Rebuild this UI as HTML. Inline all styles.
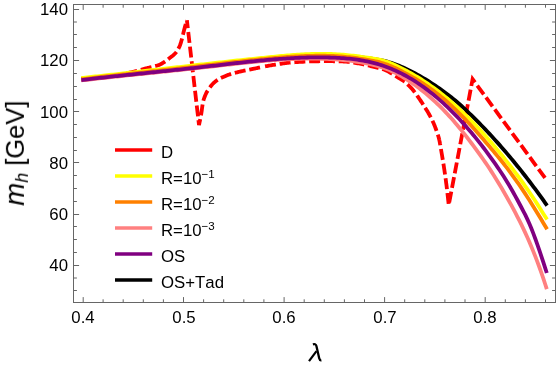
<!DOCTYPE html><html><head><meta charset="utf-8"><style>
html,body{margin:0;padding:0;background:#fff;}
body{width:556px;height:367px;position:relative;overflow:hidden;font-family:"Liberation Sans",sans-serif;color:#000;}
.t{position:absolute;font-size:16.8px;line-height:1;white-space:nowrap;font-kerning:none;will-change:transform;}
.yl{text-align:right;width:60px;}
.xl{text-align:center;width:60px;}
sup{font-size:0.69em;vertical-align:baseline;position:relative;top:-0.545em;line-height:0}
</style></head><body>
<svg width="556" height="367" viewBox="0 0 556 367" style="position:absolute;left:0;top:0">
<clipPath id="c"><rect x="73.5" y="4.5" width="482.0" height="298.0"/></clipPath>
<g fill="none" stroke-linejoin="miter" stroke-miterlimit="4" clip-path="url(#c)">
<path d="M81.30 79.20 L82.73 79.04 L84.58 78.84 L86.78 78.61 L89.25 78.34 L91.92 78.06 L94.71 77.76 L97.56 77.45 L100.39 77.13 L103.12 76.83 L105.68 76.53 L108.00 76.25 L110.00 76.00 L111.75 75.77 L113.35 75.54 L114.83 75.32 L116.20 75.10 L117.47 74.89 L118.67 74.68 L119.80 74.48 L120.88 74.28 L121.92 74.08 L122.95 73.89 L123.97 73.69 L125.00 73.50 L126.01 73.31 L126.96 73.13 L127.85 72.96 L128.70 72.80 L129.52 72.63 L130.31 72.47 L131.09 72.30 L131.85 72.14 L132.62 71.96 L133.39 71.79 L134.18 71.60 L135.00 71.40 L135.84 71.19 L136.69 70.96 L137.55 70.73 L138.41 70.49 L139.27 70.24 L140.12 69.99 L140.98 69.74 L141.81 69.49 L142.64 69.25 L143.45 69.02 L144.24 68.80 L145.00 68.60 L145.74 68.41 L146.47 68.23 L147.18 68.06 L147.87 67.90 L148.55 67.75 L149.22 67.60 L149.87 67.45 L150.52 67.31 L151.15 67.16 L151.78 67.01 L152.39 66.86 L153.00 66.70 L153.60 66.54 L154.18 66.39 L154.75 66.23 L155.31 66.08 L155.87 65.93 L156.41 65.78 L156.94 65.62 L157.46 65.45 L157.98 65.28 L158.49 65.10 L159.00 64.91 L159.50 64.70 L160.00 64.48 L160.48 64.25 L160.96 64.02 L161.43 63.77 L161.90 63.52 L162.36 63.26 L162.81 62.99 L163.26 62.72 L163.70 62.44 L164.14 62.16 L164.57 61.88 L165.00 61.60 L165.42 61.32 L165.83 61.03 L166.23 60.74 L166.62 60.45 L167.00 60.16 L167.39 59.86 L167.77 59.55 L168.16 59.24 L168.55 58.92 L168.96 58.59 L169.37 58.25 L169.80 57.90 L170.25 57.54 L170.72 57.18 L171.21 56.81 L171.70 56.43 L172.21 56.05 L172.71 55.66 L173.21 55.25 L173.71 54.84 L174.19 54.42 L174.65 53.99 L175.09 53.55 L175.50 53.10 L175.89 52.63 L176.26 52.15 L176.62 51.66 L176.96 51.16 L177.29 50.64 L177.61 50.12 L177.92 49.59 L178.21 49.06 L178.50 48.52 L178.78 47.98 L179.04 47.44 L179.30 46.90 L179.55 46.36 L179.78 45.82 L179.99 45.27 L180.20 44.73 L180.39 44.17 L180.57 43.62 L180.75 43.06 L180.93 42.50 L181.10 41.93 L181.26 41.36 L181.43 40.78 L181.60 40.20 L181.77 39.61 L181.93 39.01 L182.09 38.40 L182.24 37.79 L182.39 37.17 L182.54 36.54 L182.68 35.92 L182.83 35.30 L182.97 34.69 L183.11 34.08 L183.26 33.49 L183.40 32.90 L183.54 32.32 L183.69 31.75 L183.83 31.19 L183.97 30.63 L184.11 30.08 L184.25 29.53 L184.39 28.98 L184.53 28.44 L184.67 27.90 L184.81 27.36 L184.96 26.83 L185.10 26.30 L185.25 25.75 L185.42 25.18 L185.59 24.60 L185.76 24.00 L185.93 23.41 L186.11 22.84 L186.27 22.28 L186.43 21.76 L186.57 21.28 L186.70 20.86 L186.81 20.49 L186.90 20.20" stroke="#ff0000" stroke-width="3.8" stroke-dasharray="11.0 3.8" stroke-dashoffset="-1.20"/>
<path d="M186.90 20.20 L199.00 125.00 L199.11 124.47 L199.25 123.82 L199.41 123.05 L199.59 122.19 L199.79 121.26 L199.99 120.26 L200.21 119.23 L200.42 118.17 L200.63 117.12 L200.84 116.07 L201.03 115.06 L201.20 114.10 L201.36 113.15 L201.51 112.16 L201.66 111.15 L201.80 110.13 L201.94 109.10 L202.08 108.08 L202.22 107.07 L202.35 106.10 L202.49 105.16 L202.62 104.28 L202.76 103.45 L202.90 102.70 L203.04 102.03 L203.17 101.42 L203.30 100.88 L203.43 100.38 L203.56 99.93 L203.69 99.50 L203.82 99.09 L203.96 98.70 L204.10 98.30 L204.26 97.89 L204.42 97.46 L204.60 97.00 L204.78 96.52 L204.97 96.05 L205.16 95.57 L205.35 95.10 L205.55 94.63 L205.76 94.15 L205.98 93.67 L206.21 93.19 L206.46 92.70 L206.72 92.21 L207.00 91.71 L207.30 91.20 L207.62 90.68 L207.96 90.14 L208.31 89.59 L208.68 89.03 L209.07 88.46 L209.46 87.89 L209.87 87.33 L210.29 86.77 L210.71 86.23 L211.14 85.70 L211.57 85.19 L212.00 84.70 L212.43 84.23 L212.87 83.78 L213.32 83.33 L213.77 82.90 L214.22 82.48 L214.69 82.07 L215.16 81.67 L215.64 81.28 L216.14 80.90 L216.65 80.52 L217.17 80.16 L217.70 79.80 L218.25 79.45 L218.83 79.11 L219.43 78.78 L220.04 78.46 L220.66 78.15 L221.29 77.84 L221.93 77.55 L222.56 77.26 L223.19 76.99 L223.81 76.72 L224.41 76.45 L225.00 76.20 L225.57 75.96 L226.12 75.73 L226.66 75.51 L227.19 75.30 L227.71 75.10 L228.23 74.91 L228.76 74.73 L229.29 74.54 L229.84 74.36 L230.40 74.17 L230.99 73.99 L231.60 73.80 L232.24 73.61 L232.90 73.42 L233.58 73.22 L234.28 73.03 L234.99 72.84 L235.71 72.66 L236.44 72.47 L237.16 72.29 L237.89 72.11 L238.60 71.94 L239.31 71.77 L240.00 71.60 L240.68 71.44 L241.36 71.29 L242.04 71.14 L242.72 70.99 L243.39 70.85 L244.06 70.71 L244.73 70.57 L245.39 70.43 L246.05 70.30 L246.71 70.17 L247.36 70.03 L248.00 69.90 L248.63 69.77 L249.23 69.65 L249.82 69.53 L250.39 69.41 L250.96 69.30 L251.54 69.18 L252.12 69.06 L252.72 68.94 L253.34 68.82 L253.99 68.69 L254.67 68.55 L255.40 68.40 L256.17 68.24 L256.97 68.07 L257.79 67.89 L258.64 67.71 L259.52 67.52 L260.41 67.33 L261.32 67.14 L262.24 66.94 L263.00 66.79" stroke="#ff0000" stroke-width="3.8" stroke-dasharray="11.0 3.8" stroke-dashoffset="3.00"/>
<path d="M263.00 66.79 L263.18 66.75 L264.12 66.56 L265.06 66.38 L266.00 66.20 L266.95 66.03 L267.92 65.85 L268.90 65.68 L269.90 65.50 L270.90 65.33 L271.91 65.16 L272.93 64.99 L273.95 64.83 L274.97 64.67 L275.98 64.51 L277.00 64.35 L278.00 64.20 L279.00 64.05 L280.00 63.90 L281.00 63.75 L282.00 63.61 L283.00 63.46 L284.00 63.33 L285.00 63.19 L286.00 63.06 L287.00 62.93 L288.00 62.82 L289.00 62.70 L290.00 62.60 L291.00 62.50 L291.99 62.42 L292.98 62.34 L293.96 62.26 L294.95 62.19 L295.94 62.13 L296.93 62.07 L297.93 62.01 L298.93 61.96 L299.94 61.91 L300.96 61.85 L302.00 61.80 L303.04 61.75 L304.09 61.69 L305.13 61.64 L306.19 61.60 L307.24 61.55 L308.31 61.51 L309.39 61.46 L310.48 61.43 L311.59 61.39 L312.71 61.36 L313.84 61.33 L315.00 61.30 L316.18 61.28 L317.38 61.25 L318.61 61.24 L319.85 61.22 L321.11 61.20 L322.38 61.19 L323.65 61.19 L324.93 61.18 L326.20 61.18 L327.48 61.18 L328.74 61.19 L330.00 61.20 L331.25 61.21 L332.50 61.22 L333.75 61.23 L335.00 61.23 L336.25 61.25 L337.50 61.26 L338.75 61.29 L340.00 61.32 L341.25 61.37 L342.50 61.43 L343.75 61.51 L345.00 61.60 L346.25 61.71 L347.51 61.84 L348.77 61.98 L350.04 62.13 L351.30 62.30 L352.56 62.48 L353.82 62.66 L355.07 62.86 L356.32 63.06 L357.56 63.27 L358.79 63.48 L360.00 63.70 L361.21 63.93 L362.41 64.17 L363.61 64.41 L364.81 64.67 L366.00 64.94 L367.18 65.21 L368.34 65.48 L369.50 65.76 L370.65 66.05 L371.78 66.33 L372.90 66.62 L374.00 66.90 L375.07 67.17 L376.09 67.40 L377.07 67.62 L378.04 67.83 L378.99 68.05 L379.94 68.28 L380.90 68.53 L381.87 68.81 L382.88 69.14 L383.93 69.53 L385.04 69.97 L386.20 70.50 L387.47 71.14 L388.87 71.89 L390.37 72.74 L391.92 73.66 L393.51 74.62 L395.09 75.61 L396.65 76.58 L398.13 77.53 L399.52 78.42 L400.79 79.23 L401.89 79.93 L402.80 80.50 L403.50 80.93 L404.01 81.23 L404.36 81.43 L404.58 81.56 L404.71 81.62 L404.77 81.66 L404.80 81.68 L404.82 81.71 L404.87 81.78 L404.98 81.90 L405.18 82.10 L405.50 82.40 L405.92 82.79 L406.40 83.23 L406.92 83.72 L407.47 84.24 L408.06 84.81 L408.66 85.39 L409.28 86.00 L409.89 86.62 L410.50 87.25 L411.09 87.88 L411.66 88.49 L412.20 89.10 L412.71 89.70 L413.21 90.30 L413.70 90.91 L414.17 91.53 L414.65 92.15 L415.11 92.78 L415.58 93.42 L416.04 94.06 L416.50 94.71 L416.96 95.37 L417.43 96.03 L417.90 96.70 L418.37 97.38 L418.85 98.07 L419.32 98.76 L419.80 99.46 L420.27 100.17 L420.74 100.88 L421.22 101.60 L421.69 102.33 L422.17 103.06 L422.64 103.80 L423.12 104.55 L423.60 105.30 L424.08 106.06 L424.57 106.83 L425.07 107.61 L425.57 108.40 L426.07 109.19 L426.56 109.99 L427.06 110.79 L427.54 111.59 L428.02 112.40 L428.50 113.20 L428.95 114.00 L429.40 114.80 L429.83 115.59 L430.26 116.38 L430.67 117.17 L431.08 117.96 L431.48 118.75 L431.87 119.54 L432.26 120.33 L432.64 121.13 L433.01 121.93 L433.38 122.75 L433.74 123.57 L434.10 124.40 L434.46 125.26 L434.81 126.16 L435.17 127.09 L435.52 128.03 L435.87 128.98 L436.21 129.93 L436.53 130.86 L436.84 131.77 L437.14 132.63 L437.42 133.45 L437.67 134.21 L437.90 134.90 L438.10 135.51 L438.28 136.06 L438.43 136.55 L438.56 136.99 L438.67 137.40 L438.77 137.77 L438.87 138.13 L438.95 138.49 L439.03 138.84 L439.12 139.20 L439.20 139.59 L439.30 140.00 L439.39 140.39 L439.46 140.71 L439.52 140.98 L439.58 141.22 L439.63 141.47 L439.68 141.74 L439.74 142.07 L439.81 142.47 L439.90 142.96 L440.00 143.59 L440.14 144.36 L440.30 145.30 L440.50 146.43 L440.72 147.74 L440.97 149.19 L441.25 150.77 L441.54 152.45 L441.84 154.20 L442.14 156.00 L442.45 157.83 L442.76 159.66 L443.05 161.46 L443.34 163.22 L443.60 164.90 L443.85 166.54 L444.10 168.17 L444.35 169.80 L444.59 171.43 L444.82 173.07 L445.06 174.70 L445.29 176.34 L445.52 177.98 L445.74 179.62 L445.97 181.27 L446.18 182.93 L446.40 184.60 L446.62 186.34 L446.84 188.20 L447.07 190.13 L447.30 192.10 L447.53 194.08 L447.75 196.03 L447.96 197.91 L448.16 199.69 L448.34 201.32 L448.50 202.77 L448.64 204.01 L448.75 205.00 L463.92 125.00" stroke="#ff0000" stroke-width="3.8" stroke-dasharray="11.0 3.8" stroke-dashoffset="12.70"/>
<path d="M463.92 125.00 L472.60 79.20 L546.90 180.50" stroke="#ff0000" stroke-width="3.8" stroke-dasharray="11.0 3.8" stroke-dashoffset="4.70"/>
<path d="M81.30 78.96 L83.30 78.76 L85.30 78.55 L87.30 78.34 L89.30 78.14 L91.30 77.93 L93.30 77.71 L95.30 77.50 L97.30 77.29 L99.30 77.08 L101.30 76.86 L103.30 76.65 L105.30 76.43 L107.30 76.21 L109.30 75.99 L111.30 75.77 L113.30 75.55 L115.30 75.33 L117.30 75.11 L119.30 74.89 L121.30 74.67 L123.30 74.44 L125.30 74.22 L127.30 73.99 L129.30 73.77 L131.30 73.54 L133.30 73.31 L135.30 73.09 L137.30 72.86 L139.30 72.63 L141.30 72.40 L143.30 72.17 L145.30 71.94 L147.30 71.71 L149.30 71.48 L151.30 71.25 L153.30 71.02 L155.30 70.79 L157.30 70.56 L159.30 70.33 L161.30 70.10 L163.30 69.87 L165.30 69.64 L167.30 69.41 L169.30 69.17 L171.30 68.94 L173.30 68.71 L175.30 68.48 L177.30 68.25 L179.30 68.02 L181.30 67.79 L183.30 67.56 L185.30 67.33 L187.30 67.09 L189.30 66.86 L191.30 66.63 L193.30 66.40 L195.30 66.18 L197.30 65.95 L199.30 65.72 L201.30 65.49 L203.30 65.26 L205.30 65.03 L207.30 64.81 L209.30 64.58 L211.30 64.36 L213.30 64.13 L215.30 63.91 L217.30 63.68 L219.30 63.46 L221.30 63.24 L223.30 63.01 L225.30 62.79 L227.30 62.57 L229.30 62.35 L231.30 62.13 L233.30 61.92 L235.30 61.70 L237.30 61.48 L239.30 61.27 L241.30 61.05 L243.30 60.84 L245.30 60.63 L247.30 60.42 L249.30 60.21 L251.30 60.00 L253.30 59.79 L255.30 59.58 L257.30 59.38 L259.30 59.17 L261.30 58.97 L263.30 58.77 L265.30 58.57 L267.30 58.37 L269.30 58.17 L271.30 57.97 L273.30 57.78 L275.30 57.59 L277.30 57.40 L279.30 57.21 L281.30 57.03 L283.30 56.85 L285.30 56.67 L287.30 56.50 L289.30 56.34 L291.30 56.18 L293.30 56.03 L295.30 55.88 L297.30 55.74 L299.30 55.61 L301.30 55.49 L303.30 55.38 L305.30 55.28 L307.30 55.18 L309.30 55.10 L311.30 55.03 L313.30 54.96 L315.30 54.91 L317.30 54.87 L319.30 54.85 L321.30 54.84 L323.30 54.84 L325.30 54.85 L327.30 54.88 L329.30 54.92 L331.30 54.98 L333.30 55.06 L335.30 55.15 L337.30 55.25 L339.30 55.37 L341.30 55.50 L343.30 55.64 L345.30 55.79 L347.30 55.96 L349.30 56.14 L351.30 56.32 L353.30 56.52 L355.30 56.73 L357.30 56.95 L359.30 57.17 L361.30 57.40 L363.30 57.64 L365.30 57.89 L367.30 58.15 L369.30 58.41 L371.30 58.67 L373.30 58.95 L375.30 59.24 L377.30 59.55 L379.30 59.90 L381.30 60.28 L383.30 60.70 L385.30 61.17 L387.30 61.70 L389.30 62.28 L391.30 62.90 L393.30 63.58 L395.30 64.30 L397.30 65.06 L399.30 65.86 L401.30 66.71 L403.30 67.58 L405.30 68.49 L407.30 69.43 L409.30 70.40 L411.30 71.41 L413.30 72.44 L415.30 73.51 L417.30 74.60 L419.30 75.72 L421.30 76.87 L423.30 78.05 L425.30 79.25 L427.30 80.48 L429.30 81.73 L431.30 83.01 L433.30 84.31 L435.30 85.64 L437.30 86.99 L439.30 88.37 L441.30 89.78 L443.30 91.22 L445.30 92.69 L447.30 94.19 L449.30 95.72 L451.30 97.30 L453.30 98.91 L455.30 100.57 L457.30 102.27 L459.30 104.01 L461.30 105.79 L463.30 107.61 L465.30 109.46 L467.30 111.35 L469.30 113.26 L471.30 115.20 L473.30 117.15 L475.30 119.13 L477.30 121.14 L479.30 123.16 L481.30 125.21 L483.30 127.28 L485.30 129.37 L487.30 131.48 L489.30 133.61 L491.30 135.77 L493.30 137.95 L495.30 140.16 L497.30 142.38 L499.30 144.63 L501.30 146.91 L503.30 149.20 L505.30 151.52 L507.30 153.87 L509.30 156.23 L511.30 158.63 L513.30 161.04 L515.30 163.48 L517.30 165.94 L519.30 168.43 L521.30 170.94 L523.30 173.48 L525.30 176.04 L527.30 178.63 L529.30 181.24 L531.30 183.88 L533.30 186.54 L535.30 189.23 L537.30 191.94 L539.30 194.68 L541.30 197.44 L543.30 200.23 L545.30 203.05 L547.10 205.60" stroke="#000" stroke-width="3.8"/>
<path d="M81.30 77.98 L83.30 77.77 L85.30 77.56 L87.30 77.35 L89.30 77.14 L91.30 76.92 L93.30 76.71 L95.30 76.50 L97.30 76.28 L99.30 76.06 L101.30 75.85 L103.30 75.63 L105.30 75.41 L107.30 75.19 L109.30 74.97 L111.30 74.75 L113.30 74.53 L115.30 74.31 L117.30 74.09 L119.30 73.86 L121.30 73.64 L123.30 73.42 L125.30 73.19 L127.30 72.97 L129.30 72.74 L131.30 72.52 L133.30 72.29 L135.30 72.06 L137.30 71.84 L139.30 71.61 L141.30 71.38 L143.30 71.15 L145.30 70.92 L147.30 70.70 L149.30 70.47 L151.30 70.24 L153.30 70.01 L155.30 69.78 L157.30 69.55 L159.30 69.32 L161.30 69.09 L163.30 68.86 L165.30 68.63 L167.30 68.40 L169.30 68.17 L171.30 67.94 L173.30 67.71 L175.30 67.48 L177.30 67.25 L179.30 67.02 L181.30 66.79 L183.30 66.56 L185.30 66.34 L187.30 66.11 L189.30 65.88 L191.30 65.65 L193.30 65.42 L195.30 65.19 L197.30 64.97 L199.30 64.74 L201.30 64.51 L203.30 64.28 L205.30 64.06 L207.30 63.83 L209.30 63.61 L211.30 63.38 L213.30 63.16 L215.30 62.93 L217.30 62.71 L219.30 62.49 L221.30 62.27 L223.30 62.04 L225.30 61.82 L227.30 61.60 L229.30 61.38 L231.30 61.16 L233.30 60.95 L235.30 60.73 L237.30 60.51 L239.30 60.30 L241.30 60.08 L243.30 59.87 L245.30 59.65 L247.30 59.44 L249.30 59.23 L251.30 59.02 L253.30 58.81 L255.30 58.60 L257.30 58.39 L259.30 58.18 L261.30 57.98 L263.30 57.77 L265.30 57.57 L267.30 57.37 L269.30 57.17 L271.30 56.97 L273.30 56.77 L275.30 56.57 L277.30 56.38 L279.30 56.18 L281.30 56.00 L283.30 55.81 L285.30 55.63 L287.30 55.46 L289.30 55.29 L291.30 55.13 L293.30 54.98 L295.30 54.83 L297.30 54.69 L299.30 54.56 L301.30 54.43 L303.30 54.32 L305.30 54.21 L307.30 54.12 L309.30 54.04 L311.30 53.97 L313.30 53.91 L315.30 53.86 L317.30 53.83 L319.30 53.81 L321.30 53.80 L323.30 53.81 L325.30 53.83 L327.30 53.87 L329.30 53.93 L331.30 54.00 L333.30 54.09 L335.30 54.19 L337.30 54.31 L339.30 54.44 L341.30 54.59 L343.30 54.75 L345.30 54.93 L347.30 55.12 L349.30 55.32 L351.30 55.53 L353.30 55.76 L355.30 55.99 L357.30 56.24 L359.30 56.49 L361.30 56.76 L363.30 57.03 L365.30 57.31 L367.30 57.60 L369.30 57.90 L371.30 58.20 L373.30 58.52 L375.30 58.86 L377.30 59.23 L379.30 59.64 L381.30 60.10 L383.30 60.63 L385.30 61.22 L387.30 61.88 L389.30 62.62 L391.30 63.42 L393.30 64.27 L395.30 65.17 L397.30 66.11 L399.30 67.09 L401.30 68.09 L403.30 69.11 L405.30 70.16 L407.30 71.23 L409.30 72.32 L411.30 73.44 L413.30 74.59 L415.30 75.77 L417.30 76.97 L419.30 78.20 L421.30 79.46 L423.30 80.74 L425.30 82.06 L427.30 83.41 L429.30 84.78 L431.30 86.19 L433.30 87.63 L435.30 89.10 L437.30 90.60 L439.30 92.12 L441.30 93.68 L443.30 95.27 L445.30 96.89 L447.30 98.54 L449.30 100.23 L451.30 101.94 L453.30 103.68 L455.30 105.45 L457.30 107.25 L459.30 109.09 L461.30 110.95 L463.30 112.85 L465.30 114.77 L467.30 116.73 L469.30 118.71 L471.30 120.73 L473.30 122.78 L475.30 124.85 L477.30 126.96 L479.30 129.10 L481.30 131.27 L483.30 133.46 L485.30 135.69 L487.30 137.95 L489.30 140.23 L491.30 142.55 L493.30 144.89 L495.30 147.27 L497.30 149.67 L499.30 152.10 L501.30 154.56 L503.30 157.05 L505.30 159.56 L507.30 162.11 L509.30 164.68 L511.30 167.28 L513.30 169.91 L515.30 172.57 L517.30 175.25 L519.30 177.96 L521.30 180.70 L523.30 183.48 L525.30 186.29 L527.30 189.14 L529.30 192.04 L531.30 194.98 L533.30 197.97 L535.30 201.01 L537.30 204.11 L539.30 207.26 L541.30 210.45 L543.30 213.65 L545.30 216.80 L547.10 219.59" stroke="#ffff00" stroke-width="3.8"/>
<path d="M81.30 79.25 L83.30 79.02 L85.30 78.78 L87.30 78.55 L89.30 78.31 L91.30 78.08 L93.30 77.85 L95.30 77.62 L97.30 77.39 L99.30 77.16 L101.30 76.93 L103.30 76.71 L105.30 76.48 L107.30 76.26 L109.30 76.03 L111.30 75.81 L113.30 75.59 L115.30 75.37 L117.30 75.15 L119.30 74.93 L121.30 74.71 L123.30 74.49 L125.30 74.27 L127.30 74.05 L129.30 73.83 L131.30 73.62 L133.30 73.40 L135.30 73.18 L137.30 72.97 L139.30 72.75 L141.30 72.54 L143.30 72.32 L145.30 72.11 L147.30 71.89 L149.30 71.67 L151.30 71.46 L153.30 71.24 L155.30 71.03 L157.30 70.81 L159.30 70.60 L161.30 70.38 L163.30 70.16 L165.30 69.95 L167.30 69.73 L169.30 69.51 L171.30 69.29 L173.30 69.07 L175.30 68.85 L177.30 68.63 L179.30 68.41 L181.30 68.19 L183.30 67.97 L185.30 67.75 L187.30 67.53 L189.30 67.30 L191.30 67.08 L193.30 66.85 L195.30 66.62 L197.30 66.40 L199.30 66.17 L201.30 65.94 L203.30 65.71 L205.30 65.48 L207.30 65.24 L209.30 65.01 L211.30 64.78 L213.30 64.54 L215.30 64.31 L217.30 64.08 L219.30 63.84 L221.30 63.61 L223.30 63.38 L225.30 63.14 L227.30 62.91 L229.30 62.68 L231.30 62.45 L233.30 62.22 L235.30 62.00 L237.30 61.77 L239.30 61.55 L241.30 61.32 L243.30 61.10 L245.30 60.88 L247.30 60.67 L249.30 60.45 L251.30 60.24 L253.30 60.03 L255.30 59.83 L257.30 59.62 L259.30 59.42 L261.30 59.23 L263.30 59.03 L265.30 58.84 L267.30 58.66 L269.30 58.47 L271.30 58.29 L273.30 58.12 L275.30 57.95 L277.30 57.78 L279.30 57.62 L281.30 57.46 L283.30 57.31 L285.30 57.16 L287.30 57.02 L289.30 56.88 L291.30 56.75 L293.30 56.63 L295.30 56.51 L297.30 56.39 L299.30 56.29 L301.30 56.19 L303.30 56.10 L305.30 56.01 L307.30 55.94 L309.30 55.87 L311.30 55.82 L313.30 55.78 L315.30 55.74 L317.30 55.72 L319.30 55.71 L321.30 55.71 L323.30 55.73 L325.30 55.75 L327.30 55.79 L329.30 55.85 L331.30 55.92 L333.30 56.00 L335.30 56.10 L337.30 56.21 L339.30 56.34 L341.30 56.49 L343.30 56.66 L345.30 56.84 L347.30 57.03 L349.30 57.25 L351.30 57.47 L353.30 57.71 L355.30 57.97 L357.30 58.24 L359.30 58.53 L361.30 58.82 L363.30 59.13 L365.30 59.46 L367.30 59.79 L369.30 60.14 L371.30 60.50 L373.30 60.88 L375.30 61.28 L377.30 61.72 L379.30 62.19 L381.30 62.72 L383.30 63.30 L385.30 63.94 L387.30 64.65 L389.30 65.43 L391.30 66.26 L393.30 67.14 L395.30 68.07 L397.30 69.02 L399.30 70.02 L401.30 71.04 L403.30 72.08 L405.30 73.14 L407.30 74.22 L409.30 75.32 L411.30 76.44 L413.30 77.59 L415.30 78.75 L417.30 79.95 L419.30 81.17 L421.30 82.42 L423.30 83.71 L425.30 85.02 L427.30 86.37 L429.30 87.76 L431.30 89.18 L433.30 90.64 L435.30 92.15 L437.30 93.69 L439.30 95.28 L441.30 96.91 L443.30 98.58 L445.30 100.29 L447.30 102.04 L449.30 103.83 L451.30 105.66 L453.30 107.52 L455.30 109.42 L457.30 111.36 L459.30 113.33 L461.30 115.33 L463.30 117.37 L465.30 119.44 L467.30 121.54 L469.30 123.67 L471.30 125.83 L473.30 128.02 L475.30 130.24 L477.30 132.48 L479.30 134.75 L481.30 137.04 L483.30 139.35 L485.30 141.68 L487.30 144.01 L489.30 146.35 L491.30 148.71 L493.30 151.07 L495.30 153.46 L497.30 155.86 L499.30 158.30 L501.30 160.78 L503.30 163.30 L505.30 165.86 L507.30 168.46 L509.30 171.10 L511.30 173.78 L513.30 176.51 L515.30 179.28 L517.30 182.09 L519.30 184.95 L521.30 187.87 L523.30 190.84 L525.30 193.86 L527.30 196.94 L529.30 200.06 L531.30 203.23 L533.30 206.44 L535.30 209.69 L537.30 212.96 L539.30 216.27 L541.30 219.59 L543.30 222.94 L545.30 226.31 L547.10 229.34" stroke="#ff8000" stroke-width="3.8"/>
<path d="M81.30 80.46 L83.30 80.23 L85.30 80.00 L87.30 79.77 L89.30 79.54 L91.30 79.32 L93.30 79.09 L95.30 78.87 L97.30 78.64 L99.30 78.42 L101.30 78.20 L103.30 77.99 L105.30 77.77 L107.30 77.55 L109.30 77.34 L111.30 77.12 L113.30 76.91 L115.30 76.70 L117.30 76.49 L119.30 76.28 L121.30 76.07 L123.30 75.86 L125.30 75.65 L127.30 75.44 L129.30 75.23 L131.30 75.03 L133.30 74.82 L135.30 74.61 L137.30 74.41 L139.30 74.20 L141.30 73.99 L143.30 73.79 L145.30 73.58 L147.30 73.38 L149.30 73.17 L151.30 72.97 L153.30 72.76 L155.30 72.56 L157.30 72.35 L159.30 72.15 L161.30 71.94 L163.30 71.73 L165.30 71.53 L167.30 71.32 L169.30 71.11 L171.30 70.90 L173.30 70.69 L175.30 70.48 L177.30 70.27 L179.30 70.06 L181.30 69.85 L183.30 69.63 L185.30 69.42 L187.30 69.21 L189.30 68.99 L191.30 68.77 L193.30 68.55 L195.30 68.33 L197.30 68.11 L199.30 67.89 L201.30 67.67 L203.30 67.44 L205.30 67.22 L207.30 66.99 L209.30 66.76 L211.30 66.53 L213.30 66.31 L215.30 66.08 L217.30 65.85 L219.30 65.62 L221.30 65.39 L223.30 65.17 L225.30 64.94 L227.30 64.72 L229.30 64.49 L231.30 64.27 L233.30 64.05 L235.30 63.83 L237.30 63.61 L239.30 63.39 L241.30 63.18 L243.30 62.97 L245.30 62.76 L247.30 62.56 L249.30 62.36 L251.30 62.16 L253.30 61.96 L255.30 61.77 L257.30 61.58 L259.30 61.40 L261.30 61.22 L263.30 61.04 L265.30 60.87 L267.30 60.70 L269.30 60.54 L271.30 60.38 L273.30 60.23 L275.30 60.09 L277.30 59.95 L279.30 59.81 L281.30 59.68 L283.30 59.56 L285.30 59.44 L287.30 59.34 L289.30 59.23 L291.30 59.14 L293.30 59.05 L295.30 58.97 L297.30 58.89 L299.30 58.83 L301.30 58.77 L303.30 58.72 L305.30 58.68 L307.30 58.65 L309.30 58.63 L311.30 58.62 L313.30 58.62 L315.30 58.63 L317.30 58.66 L319.30 58.69 L321.30 58.73 L323.30 58.79 L325.30 58.85 L327.30 58.93 L329.30 59.03 L331.30 59.13 L333.30 59.25 L335.30 59.38 L337.30 59.53 L339.30 59.69 L341.30 59.86 L343.30 60.05 L345.30 60.26 L347.30 60.47 L349.30 60.71 L351.30 60.96 L353.30 61.23 L355.30 61.51 L357.30 61.82 L359.30 62.13 L361.30 62.47 L363.30 62.83 L365.30 63.20 L367.30 63.59 L369.30 64.01 L371.30 64.44 L373.30 64.91 L375.30 65.40 L377.30 65.93 L379.30 66.51 L381.30 67.12 L383.30 67.79 L385.30 68.50 L387.30 69.27 L389.30 70.10 L391.30 70.98 L393.30 71.91 L395.30 72.89 L397.30 73.93 L399.30 75.01 L401.30 76.14 L403.30 77.32 L405.30 78.55 L407.30 79.82 L409.30 81.13 L411.30 82.49 L413.30 83.89 L415.30 85.33 L417.30 86.80 L419.30 88.32 L421.30 89.88 L423.30 91.47 L425.30 93.10 L427.30 94.78 L429.30 96.49 L431.30 98.25 L433.30 100.05 L435.30 101.90 L437.30 103.79 L439.30 105.72 L441.30 107.70 L443.30 109.73 L445.30 111.81 L447.30 113.94 L449.30 116.11 L451.30 118.34 L453.30 120.62 L455.30 122.94 L457.30 125.31 L459.30 127.72 L461.30 130.17 L463.30 132.66 L465.30 135.19 L467.30 137.76 L469.30 140.35 L471.30 142.99 L473.30 145.65 L475.30 148.34 L477.30 151.07 L479.30 153.83 L481.30 156.63 L483.30 159.47 L485.30 162.36 L487.30 165.30 L489.30 168.30 L491.30 171.35 L493.30 174.46 L495.30 177.64 L497.30 180.88 L499.30 184.18 L501.30 187.55 L503.30 190.97 L505.30 194.45 L507.30 197.98 L509.30 201.57 L511.30 205.21 L513.30 208.91 L515.30 212.67 L517.30 216.51 L519.30 220.43 L521.30 224.46 L523.30 228.60 L525.30 232.86 L527.30 237.25 L529.30 241.79 L531.30 246.49 L533.30 251.35 L535.30 256.38 L537.30 261.60 L539.30 267.02 L541.30 272.63 L543.30 278.45 L545.30 284.50 L546.80 289.18" stroke="#ff8080" stroke-width="3.8"/>
<path d="M81.30 80.07 L83.30 79.83 L85.30 79.59 L87.30 79.36 L89.30 79.13 L91.30 78.89 L93.30 78.66 L95.30 78.44 L97.30 78.21 L99.30 77.98 L101.30 77.76 L103.30 77.54 L105.30 77.32 L107.30 77.10 L109.30 76.88 L111.30 76.66 L113.30 76.44 L115.30 76.23 L117.30 76.02 L119.30 75.80 L121.30 75.59 L123.30 75.38 L125.30 75.17 L127.30 74.96 L129.30 74.75 L131.30 74.54 L133.30 74.33 L135.30 74.12 L137.30 73.91 L139.30 73.71 L141.30 73.50 L143.30 73.29 L145.30 73.09 L147.30 72.88 L149.30 72.67 L151.30 72.47 L153.30 72.26 L155.30 72.05 L157.30 71.85 L159.30 71.64 L161.30 71.43 L163.30 71.22 L165.30 71.02 L167.30 70.81 L169.30 70.60 L171.30 70.39 L173.30 70.18 L175.30 69.97 L177.30 69.75 L179.30 69.54 L181.30 69.33 L183.30 69.11 L185.30 68.90 L187.30 68.68 L189.30 68.46 L191.30 68.24 L193.30 68.02 L195.30 67.80 L197.30 67.58 L199.30 67.35 L201.30 67.13 L203.30 66.90 L205.30 66.67 L207.30 66.44 L209.30 66.21 L211.30 65.98 L213.30 65.75 L215.30 65.52 L217.30 65.29 L219.30 65.06 L221.30 64.82 L223.30 64.59 L225.30 64.36 L227.30 64.13 L229.30 63.90 L231.30 63.67 L233.30 63.45 L235.30 63.22 L237.30 63.00 L239.30 62.77 L241.30 62.55 L243.30 62.34 L245.30 62.12 L247.30 61.91 L249.30 61.69 L251.30 61.49 L253.30 61.28 L255.30 61.08 L257.30 60.88 L259.30 60.68 L261.30 60.49 L263.30 60.30 L265.30 60.12 L267.30 59.94 L269.30 59.76 L271.30 59.59 L273.30 59.42 L275.30 59.26 L277.30 59.10 L279.30 58.95 L281.30 58.81 L283.30 58.67 L285.30 58.53 L287.30 58.40 L289.30 58.28 L291.30 58.16 L293.30 58.05 L295.30 57.94 L297.30 57.85 L299.30 57.76 L301.30 57.68 L303.30 57.60 L305.30 57.54 L307.30 57.48 L309.30 57.43 L311.30 57.39 L313.30 57.36 L315.30 57.34 L317.30 57.33 L319.30 57.32 L321.30 57.33 L323.30 57.35 L325.30 57.38 L327.30 57.43 L329.30 57.48 L331.30 57.55 L333.30 57.62 L335.30 57.72 L337.30 57.82 L339.30 57.93 L341.30 58.06 L343.30 58.21 L345.30 58.37 L347.30 58.54 L349.30 58.73 L351.30 58.94 L353.30 59.18 L355.30 59.43 L357.30 59.70 L359.30 60.00 L361.30 60.32 L363.30 60.67 L365.30 61.04 L367.30 61.44 L369.30 61.87 L371.30 62.33 L373.30 62.82 L375.30 63.34 L377.30 63.90 L379.30 64.49 L381.30 65.11 L383.30 65.78 L385.30 66.48 L387.30 67.21 L389.30 67.99 L391.30 68.80 L393.30 69.65 L395.30 70.53 L397.30 71.46 L399.30 72.42 L401.30 73.42 L403.30 74.45 L405.30 75.53 L407.30 76.64 L409.30 77.79 L411.30 78.98 L413.30 80.20 L415.30 81.47 L417.30 82.77 L419.30 84.11 L421.30 85.49 L423.30 86.91 L425.30 88.36 L427.30 89.86 L429.30 91.39 L431.30 92.96 L433.30 94.57 L435.30 96.22 L437.30 97.90 L439.30 99.63 L441.30 101.39 L443.30 103.20 L445.30 105.04 L447.30 106.92 L449.30 108.84 L451.30 110.80 L453.30 112.80 L455.30 114.84 L457.30 116.91 L459.30 119.03 L461.30 121.19 L463.30 123.38 L465.30 125.62 L467.30 127.89 L469.30 130.21 L471.30 132.56 L473.30 134.95 L475.30 137.39 L477.30 139.86 L479.30 142.38 L481.30 144.93 L483.30 147.52 L485.30 150.16 L487.30 152.83 L489.30 155.55 L491.30 158.30 L493.30 161.10 L495.30 163.94 L497.30 166.82 L499.30 169.76 L501.30 172.77 L503.30 175.83 L505.30 178.98 L507.30 182.20 L509.30 185.52 L511.30 188.93 L513.30 192.46 L515.30 196.08 L517.30 199.77 L519.30 203.50 L521.30 207.25 L523.30 211.04 L525.30 214.96 L527.30 219.11 L529.30 223.56 L531.30 228.34 L533.30 233.41 L535.30 238.74 L537.30 244.31 L539.30 250.08 L541.30 256.03 L543.30 262.12 L545.30 268.32 L546.80 273.00" stroke="#800080" stroke-width="3.8"/>
</g>
<g stroke="#666" stroke-width="1" fill="none" shape-rendering="crispEdges">
<rect x="73.5" y="4.5" width="482.0" height="298.0"/>
</g>
<g stroke="#666" stroke-width="1" fill="none">
<path d="M83.2 302.5 v-5.4 M83.2 4.5 v5.4"/>
<path d="M103.1 302.5 v-3.2 M103.1 4.5 v3.2"/>
<path d="M123.2 302.5 v-3.2 M123.2 4.5 v3.2"/>
<path d="M143.3 302.5 v-3.2 M143.3 4.5 v3.2"/>
<path d="M163.4 302.5 v-3.2 M163.4 4.5 v3.2"/>
<path d="M183.5 302.5 v-5.4 M183.5 4.5 v5.4"/>
<path d="M203.6 302.5 v-3.2 M203.6 4.5 v3.2"/>
<path d="M223.7 302.5 v-3.2 M223.7 4.5 v3.2"/>
<path d="M243.8 302.5 v-3.2 M243.8 4.5 v3.2"/>
<path d="M263.9 302.5 v-3.2 M263.9 4.5 v3.2"/>
<path d="M284.1 302.5 v-5.4 M284.1 4.5 v5.4"/>
<path d="M304.2 302.5 v-3.2 M304.2 4.5 v3.2"/>
<path d="M324.3 302.5 v-3.2 M324.3 4.5 v3.2"/>
<path d="M344.4 302.5 v-3.2 M344.4 4.5 v3.2"/>
<path d="M364.5 302.5 v-3.2 M364.5 4.5 v3.2"/>
<path d="M384.6 302.5 v-5.4 M384.6 4.5 v5.4"/>
<path d="M404.7 302.5 v-3.2 M404.7 4.5 v3.2"/>
<path d="M424.8 302.5 v-3.2 M424.8 4.5 v3.2"/>
<path d="M444.9 302.5 v-3.2 M444.9 4.5 v3.2"/>
<path d="M465.0 302.5 v-3.2 M465.0 4.5 v3.2"/>
<path d="M485.2 302.5 v-5.4 M485.2 4.5 v5.4"/>
<path d="M505.3 302.5 v-3.2 M505.3 4.5 v3.2"/>
<path d="M525.4 302.5 v-3.2 M525.4 4.5 v3.2"/>
<path d="M545.5 302.5 v-3.2 M545.5 4.5 v3.2"/>
<path d="M73.5 290.5 h3.4 M555.5 290.5 h-3.4"/>
<path d="M73.5 278.0 h3.4 M555.5 278.0 h-3.4"/>
<path d="M73.5 265.5 h5.6 M555.5 265.5 h-5.6"/>
<path d="M73.5 252.5 h3.4 M555.5 252.5 h-3.4"/>
<path d="M73.5 239.5 h3.4 M555.5 239.5 h-3.4"/>
<path d="M73.5 226.5 h3.4 M555.5 226.5 h-3.4"/>
<path d="M73.5 214.5 h5.6 M555.5 214.5 h-5.6"/>
<path d="M73.5 201.5 h3.4 M555.5 201.5 h-3.4"/>
<path d="M73.5 188.5 h3.4 M555.5 188.5 h-3.4"/>
<path d="M73.5 175.5 h3.4 M555.5 175.5 h-3.4"/>
<path d="M73.5 162.5 h5.6 M555.5 162.5 h-5.6"/>
<path d="M73.5 150.5 h3.4 M555.5 150.5 h-3.4"/>
<path d="M73.5 137.5 h3.4 M555.5 137.5 h-3.4"/>
<path d="M73.5 124.5 h3.4 M555.5 124.5 h-3.4"/>
<path d="M73.5 111.5 h5.6 M555.5 111.5 h-5.6"/>
<path d="M73.5 99.5 h3.4 M555.5 99.5 h-3.4"/>
<path d="M73.5 86.5 h3.4 M555.5 86.5 h-3.4"/>
<path d="M73.5 73.5 h3.4 M555.5 73.5 h-3.4"/>
<path d="M73.5 60.5 h5.6 M555.5 60.5 h-5.6"/>
<path d="M73.5 47.5 h3.4 M555.5 47.5 h-3.4"/>
<path d="M73.5 34.5 h3.4 M555.5 34.5 h-3.4"/>
<path d="M73.5 22.0 h3.4 M555.5 22.0 h-3.4"/>
<path d="M73.5 9.5 h5.6 M555.5 9.5 h-5.6"/>
</g>
<path d="M115 150.0 H152.2" stroke="#ff0000" stroke-width="3.7" fill="none"/>
<path d="M115 176.0 H152.2" stroke="#ffff00" stroke-width="3.7" fill="none"/>
<path d="M115 202.0 H152.2" stroke="#ff8000" stroke-width="3.7" fill="none"/>
<path d="M115 228.0 H152.2" stroke="#ff8080" stroke-width="3.7" fill="none"/>
<path d="M115 254.0 H152.2" stroke="#800080" stroke-width="3.7" fill="none"/>
<path d="M115 280.0 H152.2" stroke="#000" stroke-width="3.7" fill="none"/>
</svg>
<div class="t yl" style="left:7.9px;top:258.1px">40</div>
<div class="t yl" style="left:7.9px;top:206.9px">60</div>
<div class="t yl" style="left:7.9px;top:155.7px">80</div>
<div class="t yl" style="left:7.9px;top:104.5px">100</div>
<div class="t yl" style="left:7.9px;top:53.3px">120</div>
<div class="t yl" style="left:7.9px;top:2.1px">140</div>
<div class="t xl" style="left:53.0px;top:310.0px">0.4</div>
<div class="t xl" style="left:153.5px;top:310.0px">0.5</div>
<div class="t xl" style="left:254.1px;top:310.0px">0.6</div>
<div class="t xl" style="left:354.6px;top:310.0px">0.7</div>
<div class="t xl" style="left:455.2px;top:310.0px">0.8</div>
<div class="t" style="left:160.5px;top:144.8px">D</div>
<div class="t" style="left:160.5px;top:170.8px">R=10<sup>&#8722;1</sup></div>
<div class="t" style="left:160.5px;top:196.8px">R=10<sup>&#8722;2</sup></div>
<div class="t" style="left:160.5px;top:222.8px">R=10<sup>&#8722;3</sup></div>
<div class="t" style="left:160.5px;top:248.8px">OS</div>
<div class="t" style="left:160.5px;top:274.8px">OS+Tad</div>
<svg width="556" height="367" viewBox="0 0 556 367" style="position:absolute;left:0;top:0"><g fill="none" stroke="#000" stroke-linecap="butt" stroke-linejoin="round"><path d="M312.9 344.4 C314.6 343.9 315.9 344.0 316.4 346.0 L319.2 358.3 C319.5 359.7 320.1 360.5 321.4 360.3" stroke-width="2.3"/><path d="M316.5 351.2 L309.0 361.2" stroke-width="2.2"/></g></svg>
<div class="t" style="font-size:25.5px;left:0;top:0;transform-origin:0 0;transform:translate(0.9px,205.7px) rotate(-90deg)"><i style="font-size:27.5px">m</i><sub style="font-size:0.7em;font-style:italic;vertical-align:baseline;position:relative;top:0.22em;line-height:0">h</sub> [GeV]</div>
</body></html>
